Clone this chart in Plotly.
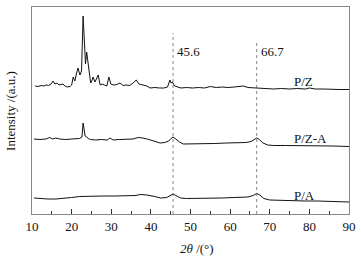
import plotly.graph_objects as go

# 2theta positions and intensities (a.u., offset stacked)
pz_x = [10.8, 11.5, 12.3, 13.0, 13.6, 14.2, 14.8, 15.3, 15.8, 16.3, 16.8, 17.3, 17.8, 18.3, 18.9, 19.6,
        20.0, 20.4, 20.8, 21.2, 21.6, 22.1, 22.5, 22.9, 23.1, 23.2, 23.5, 23.8, 24.1, 24.4, 24.8,
        25.1, 25.4, 25.9, 26.4, 26.7, 27.2, 27.7, 28.3, 28.9, 29.4, 29.9, 30.6, 31.4, 32.2, 33.0,
        33.8, 34.7, 35.5, 36.3, 37.0, 38.0, 39.0, 39.8, 41.0, 42.2, 43.3, 44.2, 44.8, 45.1, 45.4,
        46.0, 46.8, 47.6, 49.0, 50.5, 52.0, 53.5, 55.0, 56.5, 58.0, 59.5, 61.0, 62.5, 63.3, 64.5,
        66.0, 67.5, 69.0, 71.0, 73.0, 75.0, 77.0, 79.0, 80.0, 81.5, 83.5, 85.5, 87.5, 90.0]
pz_y = [128, 127.5, 128.5, 128, 129, 128.5, 130, 133, 130, 131, 129, 129.5, 130, 128, 127, 127.5,
        129, 137, 133, 140, 146, 139, 143, 198, 180, 171, 150, 162, 152, 147, 131,
        133, 137, 132, 136, 139, 129, 130, 129, 128, 137, 130, 129, 129.5, 131, 128.5,
        129, 128.5, 131, 134, 130, 129, 128, 126, 126.5, 126, 126, 127, 134, 131, 132,
        128, 127, 126, 126.5, 126, 126.5, 126, 127.5, 126.5, 127, 126.5, 127, 127.5, 128, 126.5,
        126, 125.5, 125.5, 125, 125.5, 125, 125.5, 125, 126, 125, 125, 124.5, 124.5, 124.5]

pza_x = [10.5, 12.0, 13.5, 14.5, 15.2, 16.0, 17.0, 18.5, 20.0, 21.0, 22.0, 22.6, 22.9, 23.1, 23.4,
         23.8, 24.2, 24.8, 26.0, 27.5, 29.0, 29.7, 30.5, 32.0, 34.0, 35.5, 36.8, 38.0, 39.5, 41.0,
         42.3, 43.5, 44.5, 45.1, 45.6, 46.3, 47.2, 48.2, 50.0, 53.0, 56.0, 59.0, 62.0, 64.0, 65.3,
         66.2, 66.7, 67.4, 68.3, 69.5, 71.0, 74.0, 77.0, 80.0, 83.0, 86.0, 90.0]
pza_y = [75, 74.5, 75, 76.5, 75, 76, 75, 74.5, 75, 75, 75.5, 77, 91, 86, 78,
         77, 75.5, 74.5, 74, 74.5, 74, 76, 74, 74.5, 74.5, 75, 76.5, 76, 74.5, 72.5,
         71, 71.5, 73, 75.5, 77, 75, 72, 70, 70, 70.5, 70.5, 71, 71, 71.5, 72.5,
         75, 76, 74.5, 71, 69, 68.5, 68.5, 68.5, 68, 68, 68, 67.5]

pa_x = [10.5, 12, 14, 16, 18, 20, 22, 25, 28, 31, 34, 36, 37.5, 39, 41, 42.5, 44, 45, 45.6, 46.3,
        47.5, 49, 52, 55, 58, 61, 63, 64.5, 65.8, 66.7, 67.5, 68.5, 70, 73, 76, 79, 82, 85, 88, 90]
pa_y = [16, 15.5, 15, 15, 15.5, 16.5, 17.5, 18, 18, 18, 18, 18.5, 19.5, 19, 17.5, 16, 16.5, 18.5, 20, 18.5,
        16, 15.5, 15.5, 15.5, 16, 16.5, 16.5, 17, 18.5, 20.5, 19, 15.5, 14, 13.5, 13.5, 13, 13, 12.5, 12.5, 12]

peaks = [45.6, 66.7]
peak_tops = [181, 171]
names = ["P/Z", "P/Z-A", "P/A"]
name_x = [78.4, 80.2, 78.7]
name_y = [132.5, 76, 19]

font = "Liberation Serif, Times New Roman, serif"

fig = go.Figure()
for xs, ys in [(pz_x, pz_y), (pza_x, pza_y), (pa_x, pa_y)]:
    fig.add_trace(go.Scatter(x=xs, y=ys, mode="lines",
                             line=dict(color="#111111", width=1.0), showlegend=False))

for p, top in zip(peaks, peak_tops):
    fig.add_shape(type="line", x0=p, x1=p, y0=0, y1=top,
                  line=dict(color="#555555", width=0.7, dash="dot"))
    fig.add_annotation(x=p, y=163, text="%.1f" % p, showarrow=False,
                       xanchor="left", xshift=2, font=dict(family=font, size=13, color="#111111"))

for n, nx, ny in zip(names, name_x, name_y):
    fig.add_annotation(x=nx, y=ny, text=n, showarrow=False,
                       font=dict(family=font, size=13, color="#111111"))

# axis titles placed by hand
fig.add_annotation(xref="paper", yref="paper", x=0.522, y=-0.165, yanchor="middle",
                   text="<i>2θ</i> /(°)", showarrow=False, font=dict(family=font, size=13))
fig.add_annotation(xref="paper", yref="paper", x=-0.068, y=0.5, xanchor="center",
                   text="Intensity /(a.u.)", textangle=-90, showarrow=False,
                   font=dict(family=font, size=13))

fig.update_layout(
    width=361, height=256,
    margin=dict(l=32, r=12, t=7, b=42),
    plot_bgcolor="white", paper_bgcolor="white",
    font=dict(family=font, size=13, color="#111111"),
)
fig.update_xaxes(range=[10, 90], tick0=10, dtick=10, ticks="inside", ticklen=5,
                 tickcolor="#333333", tickwidth=1,
                 minor=dict(dtick=5, ticks="inside", ticklen=3, tickcolor="#333333"),
                 showline=True, linecolor="#888888", linewidth=1, mirror=True,
                 showgrid=False, zeroline=False, automargin=False)
fig.update_yaxes(range=[0, 207], showticklabels=False, ticks="",
                 showline=True, linecolor="#888888", linewidth=1, mirror=True,
                 showgrid=False, zeroline=False, automargin=False)

# page body has a default margin; drop it so the figure sits at the window corner
fig.write_html("out.html", config={"displayModeBar": False},
               post_script="document.body.style.margin='0';")
